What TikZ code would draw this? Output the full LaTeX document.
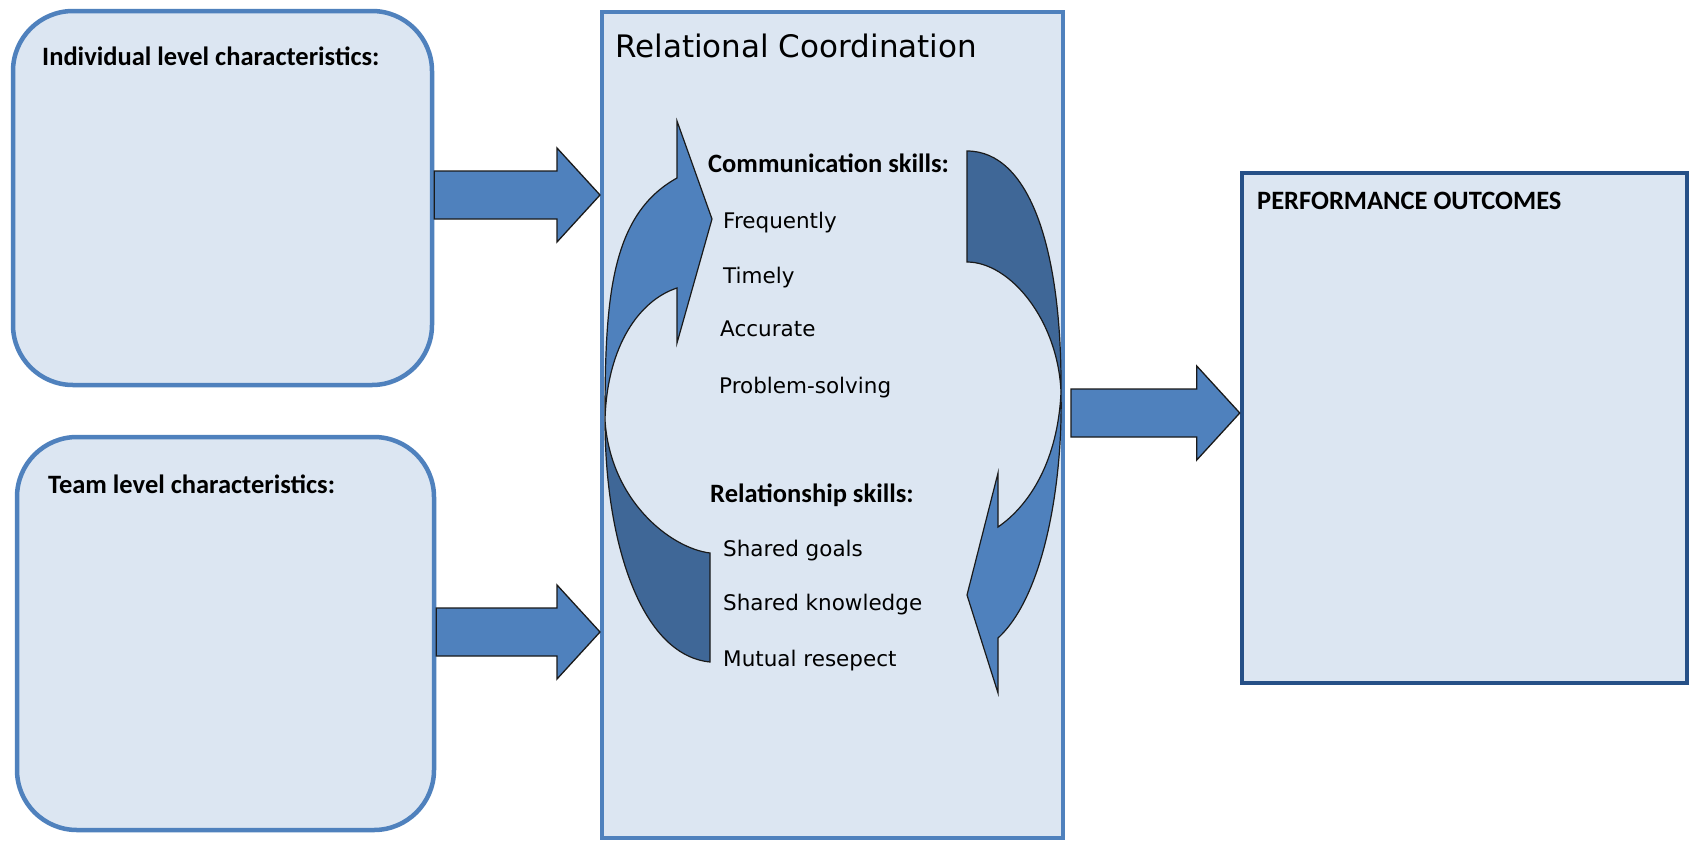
\documentclass[tikz,border=0pt]{standalone}
\usepackage{fontspec}
\newfontfamily\carlito{Carlito}
\newfontfamily\dejavu{DejaVu Sans}
\usetikzlibrary{calc}
\definecolor{boxfill}{HTML}{DCE6F2}
\definecolor{boxline}{HTML}{4F81BD}
\definecolor{arrowfill}{HTML}{4F81BD}
\definecolor{arrowdark}{HTML}{3F6797}
\definecolor{perfline}{RGB}{38,80,135}
\definecolor{outline}{HTML}{1A1A1A}
\newcommand{\fatarrow}[2]{%
  \draw[fatarrowstyle] ($(#1)+(0,-24)$) -- ($(#2)+(-43,-24)$) -- ($(#2)+(-43,-47)$) -- (#2)
    -- ($(#2)+(-43,47)$) -- ($(#2)+(-43,24)$) -- ($(#1)+(0,24)$) -- cycle;}
\begin{document}
\begin{tikzpicture}[x=1pt,y=-1pt,
  levelbox/.style={draw=boxline, fill=boxfill, line width=4.5pt, rounded corners=60pt, inner sep=0pt},
  rcbox/.style={draw=boxline, fill=boxfill, line width=4pt, inner sep=0pt},
  perfbox/.style={draw=perfline, fill=boxfill, line width=4.5pt, inner sep=0pt},
  fatarrowstyle/.style={draw=outline, fill=arrowfill, line width=1.3pt, line join=miter},
  curvelight/.style={draw=outline, fill=arrowfill, line width=1.2pt, line join=miter},
  curvedark/.style={draw=outline, fill=arrowdark, line width=1.2pt, line join=miter},
  boldlabel/.style={inner sep=0pt, anchor=base west, font=\carlito\bfseries\fontsize{26.5}{30}\selectfont},
  itemlabel/.style={inner sep=0pt, anchor=base west, font=\dejavu\fontsize{21.5}{25}\selectfont},
  titlelabel/.style={inner sep=0pt, anchor=base west, font=\dejavu\fontsize{31}{36}\selectfont}
]
\useasboundingbox (0,0) rectangle (1692,841);
\fill[white] (0,0) rectangle (1692,841);

% boxes
\node[levelbox, minimum width=419pt, minimum height=374pt] (ind) at (222.5,198) {};
\node[levelbox, minimum width=417pt, minimum height=393pt] (team) at (225.5,633.5) {};
\node[rcbox, minimum width=461pt, minimum height=826pt] (rc) at (832.5,425) {};
\node[perfbox, minimum width=445pt, minimum height=510pt] (perf) at (1464.5,428) {};

% labels
\node[boldlabel] (indlabel) at (42,65) {Individual level characteristics:};
\node[boldlabel] (teamlabel) at (48,493) {Team level characteristics:};
\node[titlelabel] (rclabel) at (615,57) {Relational Coordination};
\node[boldlabel] (perflabel) at (1257,209) {PERFORMANCE OUTCOMES};

% block arrows
\coordinate (a1s) at (ind.east |- 0,195);
\coordinate (a1t) at (600,195);
\coordinate (a2s) at (team.east |- 0,632);
\coordinate (a2t) at (600,632);
\coordinate (a3s) at (1071,413);
\coordinate (a3t) at (perf.west |- 0,413);
\fatarrow{a1s}{a1t}
\fatarrow{a2s}{a2t}
\fatarrow{a3s}{a3t}

% left curved arrow
\draw[curvelight] (677,178) -- (677,121) -- (712,219) -- (677,343) -- (677,288)
  .. controls (640,300) and (607,345) .. (605,420)
  .. controls (605,300) and (610,215) .. (677,178) -- cycle;
\draw[curvedark] (710,553) -- (710,662)
  .. controls (640,655) and (605,540) .. (605,420)
  .. controls (610,500) and (670,548) .. (710,553) -- cycle;

% right curved arrow
\draw[curvedark] (967,151)
  .. controls (1030,151) and (1062,250) .. (1061,392)
  .. controls (1058,320) and (1010,262) .. (967,262) -- cycle;
\draw[curvelight] (1061,392)
  .. controls (1063,480) and (1045,595) .. (998,638)
  -- (998,693) -- (967,595) -- (998,473) -- (998,527)
  .. controls (1030,505) and (1058,460) .. (1061,392) -- cycle;

% skills
\node[boldlabel] (comm) at (708,172) {Communication skills:};
\node[itemlabel] (freq) at (723,228) {Frequently};
\node[itemlabel] (timely) at (723,283) {Timely};
\node[itemlabel] (accur) at (720,336) {Accurate};
\node[itemlabel] (probl) at (719,393) {Problem-solving};
\node[boldlabel] (rel) at (710,502) {Relationship skills:};
\node[itemlabel] (goals) at (723,556) {Shared goals};
\node[itemlabel] (knowl) at (723,610) {Shared knowledge};
\node[itemlabel] (respect) at (723,666) {Mutual resepect};
\end{tikzpicture}
\end{document}
